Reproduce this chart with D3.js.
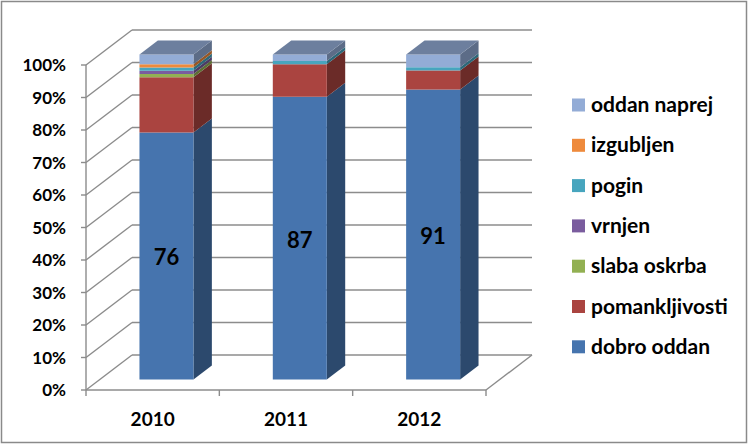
<!DOCTYPE html>
<html>
<head>
<meta charset="utf-8">
<script src="https://cdn.jsdelivr.net/npm/d3@7/dist/d3.min.js"></script>
<style>
  html, body { margin: 0; padding: 0; background: #fff; }
  svg { display: block; }
  text { font-family: Lato, "Open Sans", sans-serif; font-weight: bold; fill: #000; }
</style>
</head>
<body>
<svg id="chart" width="748" height="444"></svg>
<script>
// ---- data ----
const years = ["2010", "2011", "2012"];
const seriesNames = ["dobro oddan", "pomankljivosti", "slaba oskrba", "vrnjen", "pogin", "izgubljen", "oddan naprej"];
const dobroOddan     = [76, 87, 91];
const pomankljivosti = [17, 10, 6];
const slabaOskrba    = [1, 0, 0];
const vrnjen         = [1, 0, 0];
const pogin          = [1, 1, 1];
const izgubljen      = [1, 0, 0];
const oddanNaprej    = [3, 2, 4];
const yTickLabels = ["0%", "10%", "20%", "30%", "40%", "50%", "60%", "70%", "80%", "90%", "100%"];
const seriesColors = ["#4674AE", "#AA4440", "#92B052", "#7A5C9E", "#47A5BE", "#EE8A3C", "#93ACD6"];

// ---- build table ----
const seriesValues = [dobroOddan, pomankljivosti, slabaOskrba, vrnjen, pogin, izgubljen, oddanNaprej];
const table = years.map((yr, i) => {
  const row = { year: yr };
  seriesNames.forEach((s, k) => row[s] = seriesValues[k][i]);
  return row;
});
const stacked = d3.stack().keys(seriesNames).offset(d3.stackOffsetExpand)(table);

const svg = d3.select("#chart");

// outer border
svg.append("rect").attr("x", 1.5).attr("y", 1.5).attr("width", 745).attr("height", 441)
  .attr("fill", "#fff").attr("stroke", "#8a8a8a").attr("stroke-width", 1.5);

// ---- 3D projection ----
const DX = 46, DY = -35;
const x = d3.scaleBand().domain(years).range([86, 486]);
const y = d3.scaleLinear().domain([0, 1]).range([390, 65]);
const depth = d3.scaleLinear().domain([0, 1]).range([0, 1]);
function P(xf, v, d) { return [xf + depth(d) * DX, y(v) + depth(d) * DY]; }
const poly = d3.line();
const color = d3.scaleOrdinal().domain(seriesNames).range(seriesColors);

const gridColor = "#8c8c8c";
const grid = svg.append("g").attr("stroke", gridColor).attr("stroke-width", 1.4).attr("fill", "none");
const x0 = x.range()[0], x1 = x.range()[1];
const ticks = y.ticks(10);

// back wall and left wall gridlines
ticks.forEach(t => {
  grid.append("path").attr("d", poly([P(x0, t, 1), P(x1, t, 1)]));
  grid.append("path").attr("d", poly([P(x0, t, 0), P(x0, t, 1)]));
});
// floor
grid.append("path").attr("d", poly([P(x1, 0, 0), P(x1, 0, 1)]));
grid.append("path").attr("d", poly([P(x0, 0, 0), P(x1, 0, 0)]));
// y axis
grid.append("path").attr("d", poly([P(x0, 0, 0), P(x0, 1, 0)]));
ticks.forEach(t => {
  const p = P(x0, t, 0);
  grid.append("path").attr("d", poly([[p[0] - 5, p[1]], p]));
});
// x axis ticks
x.domain().concat([null]).forEach((d, i) => {
  const xf = x0 + i * x.step();
  const p = P(xf, 0, 0);
  grid.append("path").attr("d", poly([p, [p[0], p[1] + 6]]));
});

// y tick labels
svg.append("g").selectAll("text").data(ticks).join("text")
  .attr("x", 66).attr("y", t => P(x0, t, 0)[1]).attr("dy", "0.36em")
  .attr("text-anchor", "end").style("font-size", "17px")
  .text((t, i) => yTickLabels[i]);

// x labels
svg.append("g").selectAll("text").data(years).join("text")
  .attr("x", d => x(d) + x.bandwidth() / 2).attr("y", 426)
  .attr("text-anchor", "middle").style("font-size", "19px")
  .text(d => d);

// ---- bars ----
const bw = x.bandwidth() * 0.405;
const d0 = 0.3, d1 = 0.7;
const bars = svg.append("g");
years.forEach((yr, i) => {
  const xl = x(yr) + x.bandwidth() / 2 - bw / 2, xr = xl + bw;
  const g = bars.append("g");
  // side faces
  stacked.forEach(s => {
    const [a, b] = s[i];
    if (b - a <= 0) return;
    g.append("path")
      .attr("d", poly([P(xr, a, d0), P(xr, b, d0), P(xr, b, d1), P(xr, a, d1)]) + "Z")
      .attr("fill", d3.color(color(s.key)).darker(1.3));
  });
  // front faces
  stacked.forEach(s => {
    const [a, b] = s[i];
    if (b - a <= 0) return;
    const p0 = P(xl, b, d0), p1 = P(xr, a, d0);
    g.append("rect").attr("x", p0[0]).attr("y", p0[1])
      .attr("width", p1[0] - p0[0]).attr("height", p1[1] - p0[1])
      .attr("fill", color(s.key));
  });
  // top face
  const topSeries = stacked.filter(s => s[i][1] - s[i][0] > 0).pop();
  g.append("path")
    .attr("d", poly([P(xl, 1, d0), P(xr, 1, d0), P(xr, 1, d1), P(xl, 1, d1)]) + "Z")
    .attr("fill", d3.color(color(topSeries.key)).darker(0.85));
  // data label for first series
  const [a, b] = stacked[0][i];
  const c = P((xl + xr) / 2, (a + b) / 2, d0);
  g.append("text").attr("x", c[0]).attr("y", c[1] + 1.5).attr("dy", "0.36em")
    .attr("text-anchor", "middle").style("font-size", "22px")
    .text(dobroOddan[i]);
});

// ---- legend ----
const legend = svg.append("g");
const legendOrder = seriesNames.slice().reverse();
legendOrder.forEach((name, k) => {
  const cy = 105 + k * 40.3;
  legend.append("rect").attr("x", 572).attr("y", cy - 6.5).attr("width", 13).attr("height", 13)
    .attr("fill", color(name));
  legend.append("text").attr("x", 591).attr("y", cy).attr("dy", "0.34em")
    .style("font-size", "21px").text(name);
});
</script>
</body>
</html>
